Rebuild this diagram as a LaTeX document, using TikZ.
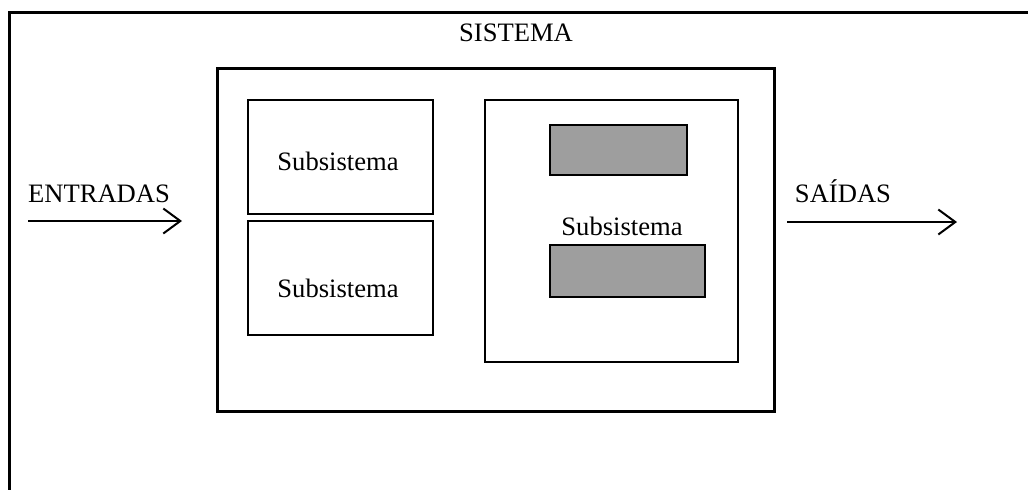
\documentclass[tikz,border=0pt]{standalone}
\usepackage{fontspec}
\setmainfont{Liberation Serif}
\usetikzlibrary{arrows.meta}
\begin{document}
\begin{tikzpicture}[x=0.5pt,y=-0.5pt,
  frame/.style={draw=black,line width=1.5pt},
  subbox/.style={draw=black,line width=1.3pt},
  shaded/.style={draw=black,line width=1.3pt,fill=black!38},
  label/.style={anchor=base,inner sep=0pt,font=\fontsize{13.3}{16}\selectfont},
  flow/.style={line width=1pt,-{Straight Barb[length=8.5pt,width=12.5pt,line width=1pt]}}]
\useasboundingbox (0,0) rectangle (1028,489);
% outer system frame (open to the right and bottom)
\coordinate (fbl) at (9,489);
\coordinate (ftl) at (9,12);
\coordinate (ftr) at (1028,12);
\draw[frame,line cap=rect] (fbl) -- (ftl) -- (ftr);
\node[label] (sis) at (516,41) {SISTEMA};
% system box
\draw[frame] (217,68) rectangle (774,411);
% left subsystems
\draw[subbox] (248,100) rectangle (433,214);
\node[label] (s1) at (338,170) {Subsistema};
\draw[subbox] (248,221) rectangle (433,335);
\node[label] (s2) at (338,297) {Subsistema};
% right subsystem with its shaded parts
\draw[subbox] (485,100) rectangle (738,362);
\draw[shaded] (550,125) rectangle (687,175);
\draw[shaded] (550,245) rectangle (705,297);
\node[label] (s3) at (622,235) {Subsistema};
% inputs and outputs
\node[label] (in) at (99,202) {ENTRADAS};
\coordinate (ina) at (28,221);
\coordinate (inb) at (182,221);
\draw[flow] (ina) -- (inb);
\node[label] (out) at (843,202) {SAÍDAS};
\coordinate (outa) at (787,222);
\coordinate (outb) at (957,222);
\draw[flow] (outa) -- (outb);
\end{tikzpicture}
\end{document}
